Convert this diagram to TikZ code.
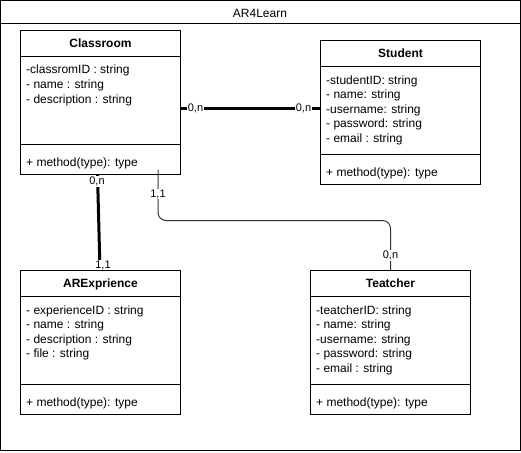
\documentclass[tikz,border=0pt]{standalone}
\usepackage{fontspec}
\setmainfont{Liberation Sans}
\usetikzlibrary{calc}
\tikzset{
  framebox/.style={draw=black, line width=1pt, inner sep=0pt, outer sep=0pt, anchor=north west},
  classbox/.style={draw=black, line width=1pt, fill=white, minimum width=160pt, minimum height=144pt, inner sep=0pt, outer sep=0pt, anchor=north west},
  sepline/.style={draw=black, line width=1pt},
  ctitle/.style={font=\fontsize{12}{14}\selectfont\bfseries, anchor=base, inner sep=0pt},
  ftitle/.style={font=\fontsize{12}{14}\selectfont, anchor=base, inner sep=0pt},
  attr/.style={font=\fontsize{12}{14}\selectfont, anchor=base west, inner sep=0pt},
  elabel/.style={font=\fontsize{11}{13}\selectfont, fill=white, inner sep=0.6pt},
  thickedge/.style={draw=black, line width=3pt},
  thinedge/.style={draw=black!80, line width=1pt, rounded corners=8pt},
}
\newcommand\umlclass[6]{%
  \node[classbox] (#1) at (#2,#3) {};
  \draw[sepline] ($(#1.north west)+(0,26)$) -- ($(#1.north east)+(0,26)$);
  \draw[sepline] ($(#1.south west)+(0,-30)$) -- ($(#1.south east)+(0,-30)$);
  \node[ctitle] (#1-t) at ($(#1.north)+(0,17.3)$) {#4};
  \foreach \a [count=\i] in {#5} {
    \node[attr] (#1-a\i) at ($(#1.north west)+(5.5,29+14.5*\i)$) {\a};
  }
  \node[attr] (#1-m) at ($(#1.south west)+(5.5,-8.5)$) {#6};
}
\begin{document}
\begin{tikzpicture}[x=1pt,y=-1pt]
  \useasboundingbox (0,0) rectangle (521,452);
  % outer frame
  \node[framebox, minimum width=520pt, minimum height=450pt] (frame) at (0.5,0.5) {};
  \draw[sepline] ($(frame.north west)+(0,23)$) -- ($(frame.north east)+(0,23)$);
  \node[ftitle] (title) at ($(frame.north)+(-0.5,17.3)$) {AR4Learn};
  % classes
  \umlclass{classroom}{20.5}{30.5}{Classroom}{-classromID : string, - name : string, - description : string}{+ method(type): type}
  \umlclass{student}{320.5}{40.5}{Student}{-studentID: string, - name: string, -username: string, - password: string, - email : string}{+ method(type): type}
  \umlclass{arexp}{20.5}{270.5}{ARExprience}{- experienceID : string, - name : string, - description : string, - file : string}{+ method(type): type}
  \umlclass{teatcher}{310.5}{270.5}{Teatcher}{-teatcherID: string, - name: string, -username: string, - password: string, - email : string}{+ method(type): type}
  % Classroom -- Student
  \coordinate (cs1) at ($(classroom.north east)+(0,78)$);
  \coordinate (cs2) at ($(student.north west)+(0,68)$);
  \draw[thickedge] (cs1) -- (cs2);
  \node[elabel] (l1) at ($(cs1)+(15,0)$) {0,n};
  \node[elabel] (l2) at ($(cs2)+(-17,0)$) {0,n};
  % Classroom -- ARExprience
  \coordinate (ca1) at ($(classroom.south)+(-3,0)$);
  \coordinate (ca2) at ($(arexp.north)+(-0.5,0)$);
  \draw[thickedge] (ca1) -- (ca2);
  \node[elabel] (l3) at ($(ca1)+(-0.5,7)$) {0,n};
  \node[elabel] (l4) at ($(arexp.north)+(2.5,-5.5)$) {1,1};
  % Classroom -- Teatcher
  \coordinate (ct1) at ($(classroom.south)+(57.5,-4.5)$);
  \coordinate (ctm) at (0,220.5);
  \draw[thinedge] (ct1) -- (ct1 |- ctm) -| (teatcher.north);
  \node[elabel] (l5) at ($(ct1)+(0,24)$) {1,1};
  \node[elabel] (l6) at ($(teatcher.north)+(0,-15)$) {0,n};
\end{tikzpicture}
\end{document}
